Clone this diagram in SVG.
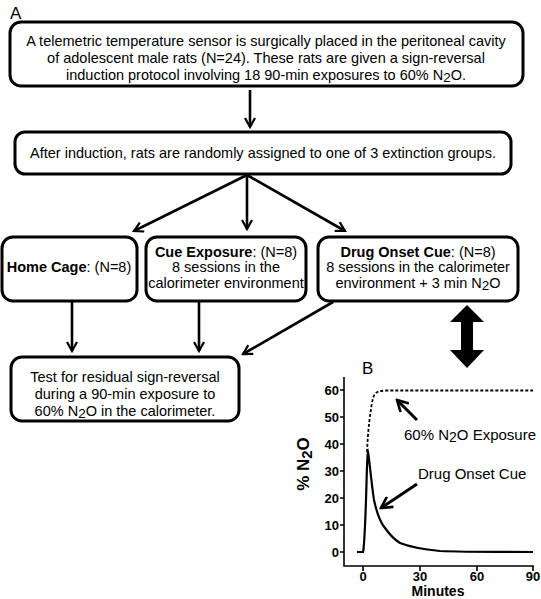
<svg xmlns="http://www.w3.org/2000/svg" width="541" height="599" viewBox="0 0 541 599">
<defs>
<marker id="ah" viewBox="0 0 12 12" refX="10" refY="6" markerWidth="12" markerHeight="12" markerUnits="userSpaceOnUse" orient="auto">
<path d="M1,1 L10,6 L1,11" fill="none" stroke="#000" stroke-width="2.2"/>
</marker>
<marker id="ah2" viewBox="0 0 14 14" refX="12" refY="7" markerWidth="14" markerHeight="14" markerUnits="userSpaceOnUse" orient="auto">
<path d="M1,1 L12,7 L1,13" fill="none" stroke="#000" stroke-width="2.6"/>
</marker>
</defs>
<style>
.box{fill:#fff;stroke:#000;stroke-width:3}
.t{font-family:"Liberation Sans",Arial,sans-serif;font-size:14.5px;fill:#000;text-anchor:middle}
.b{font-weight:bold}
.conn line{stroke:#000;stroke-width:2.6;marker-end:url(#ah)}
.ax{stroke:#000;stroke-width:1.6;fill:none}
.tk{font-family:"Liberation Sans",Arial,sans-serif;font-size:13px;font-weight:bold;fill:#000}
</style>
<rect width="541" height="599" fill="#fff"/>
<text x="10" y="19" class="t" style="text-anchor:start;font-size:17px">A</text>

<g id="n1">
<rect class="box" x="10" y="22" width="513" height="64" rx="11"/>
<text class="t" x="266" y="46">A telemetric temperature sensor is surgically placed in the peritoneal cavity</text>
<text class="t" x="266" y="63">of adolescent male rats (N=24).   These rats are given a sign-reversal</text>
<text class="t" x="266" y="80">induction protocol involving 18 90-min exposures to 60% N<tspan dy="2" font-size="13.5">2</tspan><tspan dy="-2">O.</tspan></text>
</g>

<g id="n2">
<rect class="box" x="15" y="132" width="496" height="42" rx="10"/>
<text class="t" x="263" y="158">After induction, rats are randomly assigned to one of 3 extinction groups.</text>
</g>

<g id="n3">
<rect class="box" x="2" y="237" width="135" height="64" rx="11"/>
<text class="t" x="69" y="272"><tspan class="b">Home Cage</tspan>: (N=8)</text>
</g>

<g id="n4">
<rect class="box" x="146" y="237" width="160" height="64" rx="11"/>
<text class="t" x="226" y="257"><tspan class="b">Cue Exposure</tspan>: (N=8)</text>
<text class="t" x="226" y="272">8 sessions in the</text>
<text class="t" x="226" y="288">calorimeter environment</text>
</g>

<g id="n5">
<rect class="box" x="318" y="237" width="200" height="64" rx="11"/>
<text class="t" x="418" y="257"><tspan class="b">Drug Onset Cue</tspan>: (N=8)</text>
<text class="t" x="418" y="272">8 sessions in the calorimeter</text>
<text class="t" x="418" y="288">environment + 3 min N<tspan dy="2" font-size="13.5">2</tspan><tspan dy="-2">O</tspan></text>
</g>

<g id="n6">
<rect class="box" x="11" y="357" width="228" height="64" rx="11"/>
<text class="t" x="125" y="382">Test for residual sign-reversal</text>
<text class="t" x="125" y="399">during a 90-min exposure to</text>
<text class="t" x="125" y="416">60% N<tspan dy="2" font-size="13.5">2</tspan><tspan dy="-2">O in the calorimeter.</tspan></text>
</g>

<g id="connectors">
<g class="conn">
<line x1="250" y1="90" x2="250" y2="127"/>
<line x1="247" y1="175" x2="134" y2="231"/>
<line x1="247" y1="175" x2="247" y2="229"/>
<line x1="247" y1="175" x2="345" y2="231"/>
<line x1="72" y1="302" x2="72" y2="351"/>
<line x1="199" y1="302" x2="199" y2="351"/>
<line x1="333" y1="302" x2="243" y2="354"/>
</g>
<path d="M467,305 L484,322 L473,322 L473,350 L484,350 L467,368 L450,350 L461,350 L461,322 L450,322 Z" fill="#000"/>
</g>

<g id="chart">
<text x="362" y="374" class="t" style="text-anchor:start;font-size:17px">B</text>
<path class="ax" d="M344,377 L344,566 L534,566"/>
<path class="ax" d="M340,390 H344 M340,417 H344 M340,444 H344 M340,471 H344 M340,498 H344 M340,525 H344 M340,552 H344 M363,566 V571 M420,566 V571 M477,566 V571 M533,566 V571"/>
<g class="tk" text-anchor="end">
<text x="339" y="395">60</text>
<text x="339" y="422">50</text>
<text x="339" y="449">40</text>
<text x="339" y="476">30</text>
<text x="339" y="503">20</text>
<text x="339" y="530">10</text>
<text x="339" y="557">0</text>
</g>
<g class="tk" text-anchor="middle">
<text x="363" y="581">0</text>
<text x="420" y="581">30</text>
<text x="477" y="581">60</text>
<text x="533" y="581">90</text>
</g>
<text class="tk" x="438" y="596" text-anchor="middle" style="font-size:14px">Minutes</text>
<text class="tk" transform="translate(309,464) rotate(-90)" text-anchor="middle" style="font-size:17px">% N<tspan dy="3" font-size="15">2</tspan><tspan dy="-3">O</tspan></text>
<path d="M367,452 C368,430 370,412 373,398 C375,392 378,391 386,390.5 L533,390.5" fill="none" stroke="#000" stroke-width="1.8" stroke-dasharray="3,2"/>
<path d="M357,552 L363,552 C364,548 365,530 366,500 C367,470 367,455 368,452 C369,456 371,480 374,500 C377,514 380,522 385,528 C390,535 395,540 400,543 C410,547 420,549 440,551 C460,552 480,552 533,552" fill="none" stroke="#000" stroke-width="2.2"/>
<line x1="417" y1="420" x2="397" y2="400" stroke="#000" stroke-width="3" marker-end="url(#ah2)"/>
<line x1="417" y1="484" x2="381" y2="508" stroke="#000" stroke-width="3" marker-end="url(#ah2)"/>
<text class="t" x="404" y="440" style="text-anchor:start;font-size:15px">60% N<tspan dy="2" font-size="14">2</tspan><tspan dy="-2">O Exposure</tspan></text>
<text class="t" x="418" y="479" style="text-anchor:start;font-size:15px">Drug Onset Cue</text>
</g>
</svg>
